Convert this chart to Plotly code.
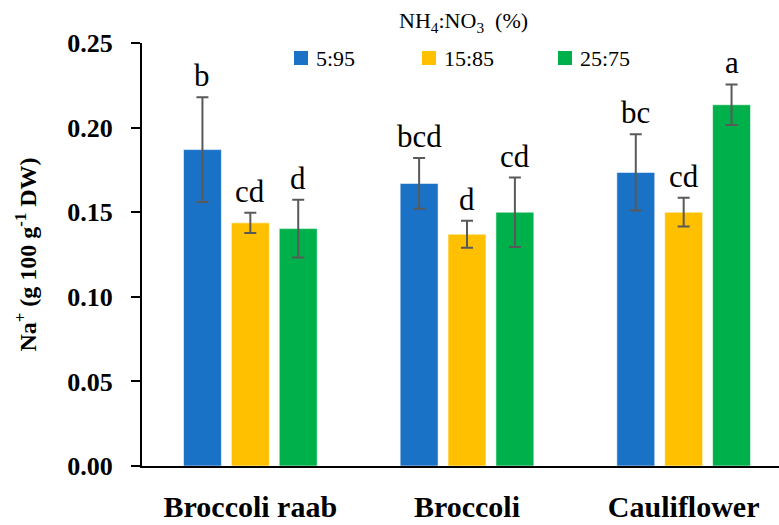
import plotly.graph_objects as go

categories = ["Broccoli raab", "Broccoli", "Cauliflower"]
series_names = ["5:95", "15:85", "25:75"]
colors = ["#1A72C6", "#FFC000", "#00B04A"]

na_5_95 = [0.187, 0.167, 0.1735]
na_15_85 = [0.1437, 0.137, 0.150]
na_25_75 = [0.1403, 0.150, 0.2135]

err_5_95 = [0.031, 0.015, 0.0225]
err_15_85 = [0.006, 0.008, 0.0085]
err_25_75 = [0.017, 0.0205, 0.012]

letters_5_95 = ["b", "bcd", "bc"]
letters_15_85 = ["cd", "d", "cd"]
letters_25_75 = ["d", "cd", "a"]

legend_title = "NH<sub>4</sub>:NO<sub>3</sub>  (%)"

values = [na_5_95, na_15_85, na_25_75]
errors = [err_5_95, err_15_85, err_25_75]
letters = [letters_5_95, letters_15_85, letters_25_75]

offsets = [-0.221, 0.0, 0.221]
bar_width = 0.175
serif = "Liberation Serif"

W, H = 779, 525
ML, MR, MT, MB = 142, 0, 43, 59
plot_h = H - MT - MB
plot_w = W - ML - MR


def px_x(p):
    return (p - ML) / plot_w


def px_y(p):
    return (H - MB - p) / plot_h


legend_left_px = [294, 422, 558]
legend_sq = 14
legend_mid_y = 58

fig = go.Figure()
annotations = []
shapes = []
for j in range(3):
    xs = [i + offsets[j] for i in range(len(categories))]
    fig.add_trace(go.Bar(
        x=xs, y=values[j], width=bar_width, name=series_names[j],
        marker=dict(color=colors[j], line=dict(color="rgba(255,255,255,0.55)", width=1)),
        error_y=dict(type="data", array=errors[j], visible=True,
                     color="#595959", thickness=2, width=6),
        showlegend=False,
    ))
    for i in range(len(categories)):
        annotations.append(dict(
            x=xs[i], y=values[j][i] + errors[j][i], xref="x", yref="y",
            text=letters[j][i], showarrow=False, yanchor="bottom", yshift=2,
            font=dict(family=serif, size=31, color="black"),
        ))
    # legend entry
    x0 = legend_left_px[j]
    shapes.append(dict(
        type="rect", xref="paper", yref="paper",
        x0=px_x(x0), x1=px_x(x0 + legend_sq),
        y0=px_y(legend_mid_y + legend_sq / 2), y1=px_y(legend_mid_y - legend_sq / 2),
        fillcolor=colors[j], line=dict(width=0),
    ))
    annotations.append(dict(
        x=px_x(x0 + legend_sq + 6), y=px_y(legend_mid_y), xref="paper", yref="paper",
        xanchor="left", yanchor="middle", showarrow=False, text=series_names[j],
        font=dict(family=serif, size=22, color="black"),
    ))

annotations.append(dict(
    x=px_x(463), y=px_y(22), xref="paper", yref="paper",
    xanchor="center", yanchor="middle", showarrow=False, text=legend_title,
    font=dict(family=serif, size=22, color="black"),
))

fig.update_layout(
    width=W, height=H,
    margin=dict(l=ML, r=MR, t=MT, b=MB, pad=0, autoexpand=False),
    paper_bgcolor="white", plot_bgcolor="white",
    font=dict(family=serif, color="black"),
    barmode="overlay",
    showlegend=False,
    annotations=annotations,
    shapes=shapes,
    xaxis=dict(
        range=[-0.5, 2.44], tickmode="array", tickvals=list(range(len(categories))),
        ticktext=categories, showline=True, linecolor="black", linewidth=2,
        ticks="", showgrid=False, zeroline=False, automargin=False,
        tickfont=dict(family=serif, size=30, color="black", weight="bold"),
        ticklabelstandoff=13,
    ),
    yaxis=dict(
        range=[0, 0.25], tickvals=[0, 0.05, 0.10, 0.15, 0.20, 0.25], tickformat=".2f",
        showline=True, linecolor="black", linewidth=2, ticks="outside", ticklen=9,
        tickwidth=2, tickcolor="black", showgrid=False, zeroline=False, automargin=False,
        tickfont=dict(family=serif, size=26, color="black", weight="bold"),
        ticklabelstandoff=13,
        title=dict(text="Na<sup>+</sup> (g 100 g<sup>-1</sup> DW)", standoff=24,
                   font=dict(family=serif, size=24, color="black", weight="bold")),
    ),
)

fig.write_html("out.html", post_script="document.body.style.margin='0';",
               config={"displayModeBar": False})
